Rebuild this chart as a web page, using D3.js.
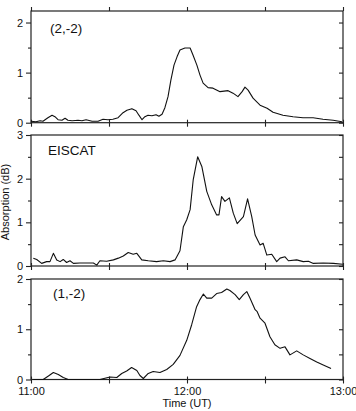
<!DOCTYPE html>
<html>
<head>
<meta charset="utf-8">
<script src="https://cdn.jsdelivr.net/npm/d3@7"></script>
<style>
  html, body { margin: 0; padding: 0; background: #fff; }
  svg { display: block; font-family: "Liberation Sans", Arial, sans-serif; }
</style>
</head>
<body>
<div id="chart"></div>
<script>
// ---- DATA (time in minutes after 11:00 UT, absorption in dB) ----
const times1  = [0, 1.9, 3.5, 4.6, 6.5, 8.1, 9.2, 10.4, 11.9, 13.1, 14.2, 15.8, 18.1, 19.6, 21.2, 23.5, 25.8, 27.7, 29.6, 31.5, 33.5, 35.4, 36.9, 38.8, 40.4, 41.5, 42.7, 43.8, 45, 46.5, 48.1, 49.2, 50.4, 51.5, 52.7, 53.8, 55, 56.2, 57.3, 59.2, 61.2, 62.3, 63.8, 65, 66.2, 68.1, 70, 72.7, 75.8, 77.7, 79.6, 81.2, 82.3, 83.5, 85.4, 88.1, 90.8, 93.1, 96.9, 100.8, 104.6, 108.5, 112.3, 116.2, 119.6];
const values1 = [0.03, 0.02, 0.04, 0.03, 0.1, 0.15, 0.12, 0.06, 0.05, 0.09, 0.05, 0.04, 0.05, 0.04, 0.06, 0.03, 0.03, 0.07, 0.06, 0.07, 0.1, 0.2, 0.25, 0.28, 0.24, 0.15, 0.06, 0.12, 0.15, 0.14, 0.16, 0.13, 0.17, 0.3, 0.52, 0.85, 1.15, 1.32, 1.45, 1.49, 1.49, 1.35, 1.15, 0.95, 0.79, 0.7, 0.69, 0.62, 0.64, 0.59, 0.52, 0.62, 0.71, 0.65, 0.49, 0.35, 0.29, 0.21, 0.15, 0.12, 0.1, 0.1, 0.07, 0.05, 0.02];

const times2  = [0.9, 2.2, 4.1, 6.0, 7.3, 8.6, 9.9, 11.2, 12.4, 13.7, 15, 16.3, 18.8, 21.4, 24, 25.3, 26.5, 29.1, 31.7, 33.6, 35.5, 37.4, 39.3, 40.7, 42.6, 45.1, 48.3, 50.9, 53.5, 55.4, 57.3, 58.6, 59.9, 61.2, 62.4, 64.1, 65.7, 67.6, 69.5, 71.4, 72.3, 73.3, 74.6, 76.3, 77.8, 79.3, 81.7, 83.3, 84.9, 86.2, 88.1, 89.3, 90.7, 92.6, 94.5, 95.8, 97.7, 99, 102.2, 104.7, 106.7, 108.6, 112.4, 116.3, 119.9];
const values2 = [0.18, 0.15, 0.06, 0.1, 0.1, 0.29, 0.14, 0.1, 0.15, 0.08, 0.12, 0.06, 0.07, 0.07, 0.07, 0.02, 0.12, 0.11, 0.14, 0.18, 0.23, 0.31, 0.27, 0.29, 0.14, 0.12, 0.1, 0.12, 0.1, 0.14, 0.35, 0.9, 1.06, 1.29, 1.98, 2.5, 2.28, 1.71, 1.4, 1.17, 1.17, 1.59, 1.48, 1.56, 1.21, 0.97, 1.13, 1.54, 1.13, 0.71, 0.48, 0.52, 0.25, 0.27, 0.1, 0.18, 0.21, 0.12, 0.14, 0.1, 0.11, 0.06, 0.07, 0.06, 0.04];

const times3  = [0.9, 4.7, 6.7, 8.6, 10.5, 12.4, 14.3, 26.5, 30.4, 33, 34.9, 36.8, 38.7, 40.7, 41.9, 43.2, 45.1, 47, 49.6, 52.2, 54.7, 57.3, 59.9, 61.8, 63.7, 65, 66.3, 67.6, 69.5, 71.4, 73.3, 75.3, 76.5, 78.5, 80.1, 81.7, 83, 84.2, 86.2, 87, 88.1, 90, 91.9, 93.8, 95.8, 97.7, 99.6, 102.2, 104.7, 107.3, 109.9, 112.4, 115.4];
const values3 = [0, 0, 0.07, 0.14, 0.1, 0.04, 0, 0, 0.05, 0.04, 0.12, 0.17, 0.24, 0.18, 0.08, 0.02, 0.12, 0.16, 0.14, 0.2, 0.3, 0.48, 0.78, 1.09, 1.45, 1.59, 1.7, 1.62, 1.62, 1.71, 1.73, 1.8, 1.77, 1.69, 1.59, 1.69, 1.75, 1.62, 1.39, 1.35, 1.22, 1.12, 0.85, 0.69, 0.62, 0.65, 0.49, 0.57, 0.49, 0.42, 0.35, 0.29, 0.22];

const panelLabels  = ["(2,-2)", "EISCAT", "(1,-2)"];
const yMaxes       = [2.23, 3, 2];
const yMajorTicks  = [[0, 1, 2], [0, 1, 2, 3], [0, 1, 2]];
const xTickValues  = [0, 30, 60, 90, 120];
const xTickLabels  = ["11:00", "", "12:00", "", "13:00"];
const xTitle = "Time (UT)";
const yTitle = "Absorption (dB)";

// ---- LAYOUT ----
const W = 356, H = 411;
const x0 = 31, x1 = 343;
const panels = [
  { top: 11,  bottom: 122.7, t: times1, v: values1, labelX: 50, labelY: 33 },
  { top: 135, bottom: 266,   t: times2, v: values2, labelX: 48, labelY: 155 },
  { top: 279, bottom: 379.5, t: times3, v: values3, labelX: 53, labelY: 298 }
];

const svg = d3.select("#chart").append("svg").attr("width", W).attr("height", H);
const x = d3.scaleLinear().domain([0, 120]).range([x0, x1]);
const axisColor = "#222";

panels.forEach((p, i) => {
  const y = d3.scaleLinear().domain([0, yMaxes[i]]).range([p.bottom, p.top]);
  const g = svg.append("g");

  // frame
  g.append("rect").attr("x", x0).attr("y", p.top)
    .attr("width", x1 - x0).attr("height", p.bottom - p.top)
    .attr("fill", "none").attr("stroke", axisColor).attr("stroke-width", 1.2);

  const minor = d3.range(0, yMaxes[i] + 1e-9, 0.5);

  // left axis: major ticks with labels
  const la = g.append("g").attr("transform", `translate(${x0},0)`)
    .call(d3.axisLeft(y).tickValues(yMajorTicks[i]).tickSize(5).tickSizeOuter(0).tickPadding(3).tickFormat(d3.format("d")));
  la.select(".domain").remove();
  // left minor ticks
  g.append("g").attr("transform", `translate(${x0},0)`)
    .call(d3.axisLeft(y).tickValues(minor.filter(d => !yMajorTicks[i].includes(d))).tickSize(3).tickFormat(""))
    .select(".domain").remove();
  // right inner ticks
  g.append("g").attr("transform", `translate(${x1},0)`)
    .call(d3.axisLeft(y).tickValues(minor).tickSize(4).tickFormat(""))
    .select(".domain").remove();

  // bottom ticks (crossing the axis line)
  const ba = g.append("g").attr("transform", `translate(0,${p.bottom})`)
    .call(d3.axisBottom(x).tickValues(xTickValues).tickSize(4).tickPadding(4)
      .tickFormat((d, k) => i === 2 ? xTickLabels[k] : ""));
  ba.select(".domain").remove();
  ba.selectAll(".tick line").attr("y1", -3);
  if (i === 0) {
    const ta = g.append("g").attr("transform", `translate(0,${p.top})`)
      .call(d3.axisTop(x).tickValues(xTickValues).tickSize(4).tickFormat(""));
    ta.select(".domain").remove();
  }

  g.selectAll(".tick line").attr("stroke", axisColor).attr("stroke-width", 1.1);
  g.selectAll(".tick text").attr("fill", "#111").style("font-size", "11px")
    .style("font-family", "'Liberation Sans', Arial, sans-serif");

  // data line
  const pts = p.t.map((t, k) => [t, p.v[k]]);
  g.append("path").datum(pts)
    .attr("fill", "none").attr("stroke", "#111").attr("stroke-width", 1.1)
    .attr("stroke-linejoin", "round")
    .attr("d", d3.line().x(d => x(d[0])).y(d => y(d[1])));

  // panel label
  g.append("text").attr("x", p.labelX).attr("y", p.labelY)
    .attr("fill", "#111").style("font-size", "13.5px").text(panelLabels[i]);
});

// titles
svg.append("text").attr("x", (x0 + x1) / 2).attr("y", 407).attr("text-anchor", "middle")
  .attr("fill", "#111").style("font-size", "11px").text(xTitle);
svg.append("text").attr("transform", "translate(9,202) rotate(-90)").attr("text-anchor", "middle")
  .attr("fill", "#111").style("font-size", "11px").text(yTitle);
</script>
</body>
</html>
